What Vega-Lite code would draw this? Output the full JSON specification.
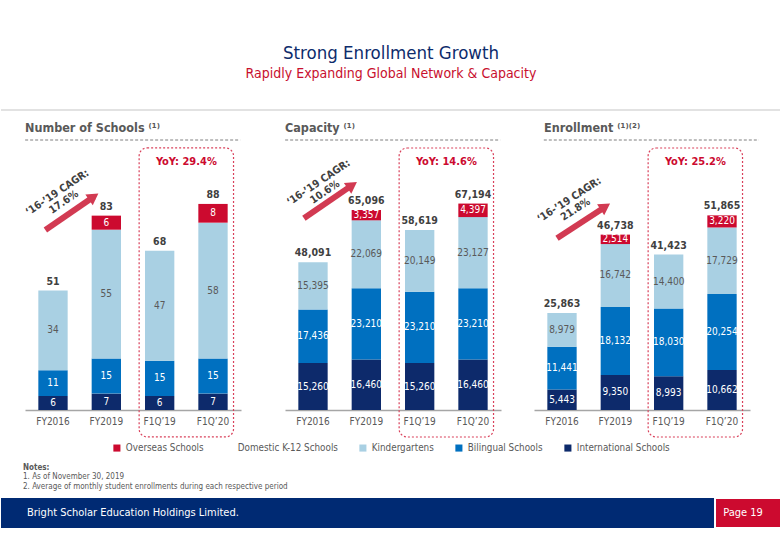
{
  "$schema": "https://vega.github.io/schema/vega-lite/v6.json",
  "background": "white",
  "padding": {"left": 0, "right": 0, "top": 43, "bottom": 0},
  "title": {
    "text": "Strong Enrollment Growth",
    "subtitle": "Rapidly Expanding Global Network & Capacity",
    "anchor": "middle",
    "font": "DejaVu Sans Condensed, sans-serif",
    "fontSize": 18.5,
    "fontWeight": "normal",
    "color": "#0d2c6c",
    "subtitleFont": "DejaVu Sans Condensed, sans-serif",
    "subtitleFontSize": 14,
    "subtitleColor": "#c8102e",
    "subtitlePadding": 5,
    "offset": 28
  },
  "datasets": {
    "schools": [
      {"period": "FY2016", "segment": "International Schools", "value": 6},
      {"period": "FY2016", "segment": "Bilingual Schools", "value": 11},
      {"period": "FY2016", "segment": "Kindergartens", "value": 34},
      {"period": "FY2019", "segment": "International Schools", "value": 7},
      {"period": "FY2019", "segment": "Bilingual Schools", "value": 15},
      {"period": "FY2019", "segment": "Kindergartens", "value": 55},
      {"period": "FY2019", "segment": "Overseas Schools", "value": 6},
      {"period": "F1Q’19", "segment": "International Schools", "value": 6},
      {"period": "F1Q’19", "segment": "Bilingual Schools", "value": 15},
      {"period": "F1Q’19", "segment": "Kindergartens", "value": 47},
      {"period": "F1Q’20", "segment": "International Schools", "value": 7},
      {"period": "F1Q’20", "segment": "Bilingual Schools", "value": 15},
      {"period": "F1Q’20", "segment": "Kindergartens", "value": 58},
      {"period": "F1Q’20", "segment": "Overseas Schools", "value": 8}
    ],
    "capacity": [
      {"period": "FY2016", "segment": "International Schools", "value": 15260},
      {"period": "FY2016", "segment": "Bilingual Schools", "value": 17436},
      {"period": "FY2016", "segment": "Kindergartens", "value": 15395},
      {"period": "FY2019", "segment": "International Schools", "value": 16460},
      {"period": "FY2019", "segment": "Bilingual Schools", "value": 23210},
      {"period": "FY2019", "segment": "Kindergartens", "value": 22069},
      {"period": "FY2019", "segment": "Overseas Schools", "value": 3357},
      {"period": "F1Q’19", "segment": "International Schools", "value": 15260},
      {"period": "F1Q’19", "segment": "Bilingual Schools", "value": 23210},
      {"period": "F1Q’19", "segment": "Kindergartens", "value": 20149},
      {"period": "F1Q’20", "segment": "International Schools", "value": 16460},
      {"period": "F1Q’20", "segment": "Bilingual Schools", "value": 23210},
      {"period": "F1Q’20", "segment": "Kindergartens", "value": 23127},
      {"period": "F1Q’20", "segment": "Overseas Schools", "value": 4397}
    ],
    "enrollment": [
      {"period": "FY2016", "segment": "International Schools", "value": 5443},
      {"period": "FY2016", "segment": "Bilingual Schools", "value": 11441},
      {"period": "FY2016", "segment": "Kindergartens", "value": 8979},
      {"period": "FY2019", "segment": "International Schools", "value": 9350},
      {"period": "FY2019", "segment": "Bilingual Schools", "value": 18132},
      {"period": "FY2019", "segment": "Kindergartens", "value": 16742},
      {"period": "FY2019", "segment": "Overseas Schools", "value": 2514},
      {"period": "F1Q’19", "segment": "International Schools", "value": 8993},
      {"period": "F1Q’19", "segment": "Bilingual Schools", "value": 18030},
      {"period": "F1Q’19", "segment": "Kindergartens", "value": 14400},
      {"period": "F1Q’20", "segment": "International Schools", "value": 10662},
      {"period": "F1Q’20", "segment": "Bilingual Schools", "value": 20254},
      {"period": "F1Q’20", "segment": "Kindergartens", "value": 17729},
      {"period": "F1Q’20", "segment": "Overseas Schools", "value": 3220}
    ],
    "legendItems": [
      {"segment": "Overseas Schools"}
    ],
    "notes": [
      {"n": 2, "note": "Notes:"},
      {"n": 3, "note": "1.  As of November 30, 2019"},
      {"n": 4, "note": "2.  Average of monthly student enrollments during each respective period"}
    ],
    "footer": [
      {"part": "name", "label": "Bright Scholar Education Holdings Limited."},
      {"part": "page", "label": "Page 19"}
    ]
  },
  "concat": [
    {
      "width": 780,
      "height": 8,
      "data": {"values": [{}]},
      "mark": {"type": "rule", "color": "#e2e2e2", "strokeWidth": 2},
      "encoding": {"y": {"datum": 1, "scale": {"domain": [0, 8], "reverse": true, "nice": false}, "axis": null}}
    },
    {
      "hconcat": [
        {
          "width": 13,
          "height": 270,
          "view": {"fill": "white", "stroke": null},
          "data": {"values": []},
          "mark": "rule",
          "encoding": {}
        },
        {
          "width": 216,
          "height": 270,
          "title": {"text": "Number of Schools ⁽¹⁾", "anchor": "start", "frame": "group", "fontSize": 12.5, "fontWeight": "bold", "color": "#595959", "offset": 5},
          "data": {"name": "schools"},
          "layer": [
            {
              "transform": [
                {"calculate": "indexof(['International Schools','Bilingual Schools','Kindergartens','Overseas Schools'], datum.segment)", "as": "ord"},
                {"stack": "value", "groupby": ["period"], "sort": [{"field": "ord", "order": "ascending"}], "as": ["y0", "y1"]}
              ],
              "mark": {"type": "bar"},
              "encoding": {
                "x": {"field": "period", "type": "nominal", "sort": ["FY2016", "FY2019", "F1Q’19", "F1Q’20"],
                  "scale": {"domain": ["FY2016", "FY2019", "F1Q’19", "F1Q’20"], "paddingInner": 0.45, "paddingOuter": 0.25},
                  "axis": {"title": null, "labelAngle": 0, "ticks": false, "domainColor": "#a6a6a6", "domainWidth": 1.5, "labelColor": "#595959", "labelFontSize": 10, "labelPadding": 6}},
                "y": {"field": "y0", "type": "quantitative", "scale": {"domain": [0, 115.3], "nice": false}, "axis": null},
                "y2": {"field": "y1"},
                "color": {"field": "segment", "type": "nominal",
                  "scale": {"domain": ["Overseas Schools", "Domestic K-12 Schools", "Kindergartens", "Bilingual Schools", "International Schools"], "range": ["#cc0a2f", "rgba(0,0,0,0)", "#a9d0e3", "#0070c0", "#0d2a6b"]},
                  "legend": null}
              }
            },
            {
              "transform": [
                {"calculate": "indexof(['International Schools','Bilingual Schools','Kindergartens','Overseas Schools'], datum.segment)", "as": "ord"},
                {"stack": "value", "groupby": ["period"], "sort": [{"field": "ord", "order": "ascending"}], "as": ["y0", "y1"]},
                {"calculate": "(datum.y0 + datum.y1) / 2", "as": "mid"}
              ],
              "mark": {"type": "text", "fontSize": 10, "baseline": "middle"},
              "encoding": {
                "x": {"field": "period", "type": "nominal"},
                "y": {"field": "mid", "type": "quantitative"},
                "text": {"field": "value", "type": "quantitative", "format": ","},
                "color": {"condition": {"test": "datum.segment === 'Kindergartens'", "value": "#595959"}, "value": "white"}
              }
            },
            {
              "transform": [{"aggregate": [{"op": "sum", "field": "value", "as": "total"}], "groupby": ["period"]}],
              "mark": {"type": "text", "fontSize": 10.5, "fontWeight": "bold", "color": "#404040", "baseline": "bottom", "dy": -4},
              "encoding": {
                "x": {"field": "period", "type": "nominal"},
                "y": {"field": "total", "type": "quantitative"},
                "text": {"field": "total", "type": "quantitative", "format": ","}
              }
            },
            {
              "data": {"values": [{}]},
              "mark": {"type": "rule", "strokeDash": [3, 2], "color": "#7f7f7f", "strokeWidth": 1},
              "encoding": {"x": {"datum": "FY2016", "bandPosition": -0.45}, "x2": {"datum": "F1Q’20", "bandPosition": 1.43}, "y": {"datum": 115.3}}
            },
            {
              "data": {"values": [{}]},
              "mark": {"type": "rect", "fillOpacity": 0, "stroke": "#d9415b", "strokeWidth": 1.2, "strokeDash": [2, 2], "cornerRadius": 8},
              "encoding": {"x": {"datum": "F1Q’19", "bandPosition": -0.2}, "x2": {"datum": "F1Q’20", "bandPosition": 1.2}, "y": {"datum": 111.9}, "y2": {"datum": -11.5}}
            },
            {
              "data": {"values": [{}]},
              "mark": {"type": "text", "text": "YoY: 29.4%", "fontSize": 11, "fontWeight": "bold", "color": "#cc0a2f", "baseline": "middle", "align": "center"},
              "encoding": {"x": {"datum": "F1Q’19", "bandPosition": 1.41}, "y": {"datum": 106.1}}
            },
            {
              "data": {"values": [{}]},
              "mark": {"type": "rule", "color": "#d23a52", "strokeWidth": 6},
              "encoding": {"x": {"datum": "FY2016", "bandPosition": 0.24}, "x2": {"datum": "FY2019", "bandPosition": 0.07}, "y": {"datum": 76.9}, "y2": {"datum": 91.1}}
            },
            {
              "data": {"values": [{}]},
              "mark": {"type": "point", "shape": "triangle-up", "filled": true, "opacity": 1, "size": 170, "color": "#d23a52", "angle": 55.5},
              "encoding": {"x": {"datum": "FY2019", "bandPosition": 0.07}, "y": {"datum": 91.1}}
            },
            {
              "data": {"values": [{}]},
              "mark": {"type": "text", "text": ["‘16-’19 CAGR:", "17.6%"], "angle": 326, "align": "center", "baseline": "middle", "lineHeight": 11.5, "fontSize": 10.5, "fontWeight": "bold", "color": "#404040"},
              "encoding": {"x": {"datum": "FY2016", "bandPosition": 0.65}, "y": {"datum": 92.8}}
            }
          ]
        },
        {
          "width": 216,
          "height": 270,
          "title": {"text": "Capacity ⁽¹⁾", "anchor": "start", "frame": "group", "fontSize": 12.5, "fontWeight": "bold", "color": "#595959", "offset": 5},
          "data": {"name": "capacity"},
          "layer": [
            {
              "transform": [
                {"calculate": "indexof(['International Schools','Bilingual Schools','Kindergartens','Overseas Schools'], datum.segment)", "as": "ord"},
                {"stack": "value", "groupby": ["period"], "sort": [{"field": "ord", "order": "ascending"}], "as": ["y0", "y1"]}
              ],
              "mark": {"type": "bar"},
              "encoding": {
                "x": {"field": "period", "type": "nominal", "sort": ["FY2016", "FY2019", "F1Q’19", "F1Q’20"],
                  "scale": {"domain": ["FY2016", "FY2019", "F1Q’19", "F1Q’20"], "paddingInner": 0.45, "paddingOuter": 0.25},
                  "axis": {"title": null, "labelAngle": 0, "ticks": false, "domainColor": "#a6a6a6", "domainWidth": 1.5, "labelColor": "#595959", "labelFontSize": 10, "labelPadding": 6}},
                "y": {"field": "y0", "type": "quantitative", "scale": {"domain": [0, 87885], "nice": false},
                  "axis": {"title": null, "labels": false, "ticks": false, "domain": false, "grid": false, "minExtent": 33.8, "maxExtent": 33.8}},
                "y2": {"field": "y1"},
                "color": {"field": "segment", "type": "nominal",
                  "scale": {"domain": ["Overseas Schools", "Domestic K-12 Schools", "Kindergartens", "Bilingual Schools", "International Schools"], "range": ["#cc0a2f", "rgba(0,0,0,0)", "#a9d0e3", "#0070c0", "#0d2a6b"]},
                  "legend": null}
              }
            },
            {
              "transform": [
                {"calculate": "indexof(['International Schools','Bilingual Schools','Kindergartens','Overseas Schools'], datum.segment)", "as": "ord"},
                {"stack": "value", "groupby": ["period"], "sort": [{"field": "ord", "order": "ascending"}], "as": ["y0", "y1"]},
                {"calculate": "(datum.y0 + datum.y1) / 2", "as": "mid"}
              ],
              "mark": {"type": "text", "fontSize": 10, "baseline": "middle"},
              "encoding": {
                "x": {"field": "period", "type": "nominal"},
                "y": {"field": "mid", "type": "quantitative"},
                "text": {"field": "value", "type": "quantitative", "format": ","},
                "color": {"condition": {"test": "datum.segment === 'Kindergartens'", "value": "#595959"}, "value": "white"}
              }
            },
            {
              "transform": [{"aggregate": [{"op": "sum", "field": "value", "as": "total"}], "groupby": ["period"]}],
              "mark": {"type": "text", "fontSize": 10.5, "fontWeight": "bold", "color": "#404040", "baseline": "bottom", "dy": -4},
              "encoding": {
                "x": {"field": "period", "type": "nominal"},
                "y": {"field": "total", "type": "quantitative"},
                "text": {"field": "total", "type": "quantitative", "format": ","}
              }
            },
            {
              "data": {"values": [{}]},
              "mark": {"type": "rule", "strokeDash": [3, 2], "color": "#7f7f7f", "strokeWidth": 1},
              "encoding": {"x": {"datum": "FY2016", "bandPosition": -0.45}, "x2": {"datum": "F1Q’20", "bandPosition": 1.43}, "y": {"datum": 87885}}
            },
            {
              "data": {"values": [{}]},
              "mark": {"type": "rect", "fillOpacity": 0, "stroke": "#d9415b", "strokeWidth": 1.2, "strokeDash": [2, 2], "cornerRadius": 8},
              "encoding": {"x": {"datum": "F1Q’19", "bandPosition": -0.2}, "x2": {"datum": "F1Q’20", "bandPosition": 1.2}, "y": {"datum": 85281}, "y2": {"datum": -8789}}
            },
            {
              "data": {"values": [{}]},
              "mark": {"type": "text", "text": "YoY: 14.6%", "fontSize": 11, "fontWeight": "bold", "color": "#cc0a2f", "baseline": "middle", "align": "center"},
              "encoding": {"x": {"datum": "F1Q’19", "bandPosition": 1.41}, "y": {"datum": 80822}}
            },
            {
              "data": {"values": [{}]},
              "mark": {"type": "rule", "color": "#d23a52", "strokeWidth": 6},
              "encoding": {"x": {"datum": "FY2016", "bandPosition": 0.19}, "x2": {"datum": "FY2019", "bandPosition": 0.02}, "y": {"datum": 62398}, "y2": {"datum": 73205}}
            },
            {
              "data": {"values": [{}]},
              "mark": {"type": "point", "shape": "triangle-up", "filled": true, "opacity": 1, "size": 170, "color": "#d23a52", "angle": 55.5},
              "encoding": {"x": {"datum": "FY2019", "bandPosition": 0.02}, "y": {"datum": 73205}}
            },
            {
              "data": {"values": [{}]},
              "mark": {"type": "text", "text": ["‘16-’19 CAGR:", "10.6%"], "angle": 326, "align": "center", "baseline": "middle", "lineHeight": 11.5, "fontSize": 10.5, "fontWeight": "bold", "color": "#404040"},
              "encoding": {"x": {"datum": "FY2016", "bandPosition": 0.69}, "y": {"datum": 73986}}
            }
          ]
        },
        {
          "width": 216,
          "height": 270,
          "title": {"text": "Enrollment ⁽¹⁾⁽²⁾", "anchor": "start", "frame": "group", "fontSize": 12.5, "fontWeight": "bold", "color": "#595959", "offset": 5, "dx": 10},
          "data": {"name": "enrollment"},
          "layer": [
            {
              "transform": [
                {"calculate": "indexof(['International Schools','Bilingual Schools','Kindergartens','Overseas Schools'], datum.segment)", "as": "ord"},
                {"stack": "value", "groupby": ["period"], "sort": [{"field": "ord", "order": "ascending"}], "as": ["y0", "y1"]}
              ],
              "mark": {"type": "bar"},
              "encoding": {
                "x": {"field": "period", "type": "nominal", "sort": ["FY2016", "FY2019", "F1Q’19", "F1Q’20"],
                  "scale": {"domain": ["FY2016", "FY2019", "F1Q’19", "F1Q’20"], "paddingInner": 0.45, "paddingOuter": 0.25},
                  "axis": {"title": null, "labelAngle": 0, "ticks": false, "domainColor": "#a6a6a6", "domainWidth": 1.5, "labelColor": "#595959", "labelFontSize": 10, "labelPadding": 6}},
                "y": {"field": "y0", "type": "quantitative", "scale": {"domain": [0, 71955], "nice": false},
                  "axis": {"title": null, "labels": false, "ticks": false, "domain": false, "grid": false, "minExtent": 22.5, "maxExtent": 22.5}},
                "y2": {"field": "y1"},
                "color": {"field": "segment", "type": "nominal",
                  "scale": {"domain": ["Overseas Schools", "Domestic K-12 Schools", "Kindergartens", "Bilingual Schools", "International Schools"], "range": ["#cc0a2f", "rgba(0,0,0,0)", "#a9d0e3", "#0070c0", "#0d2a6b"]},
                  "legend": null}
              }
            },
            {
              "transform": [
                {"calculate": "indexof(['International Schools','Bilingual Schools','Kindergartens','Overseas Schools'], datum.segment)", "as": "ord"},
                {"stack": "value", "groupby": ["period"], "sort": [{"field": "ord", "order": "ascending"}], "as": ["y0", "y1"]},
                {"calculate": "(datum.y0 + datum.y1) / 2", "as": "mid"}
              ],
              "mark": {"type": "text", "fontSize": 10, "baseline": "middle"},
              "encoding": {
                "x": {"field": "period", "type": "nominal"},
                "y": {"field": "mid", "type": "quantitative"},
                "text": {"field": "value", "type": "quantitative", "format": ","},
                "color": {"condition": {"test": "datum.segment === 'Kindergartens'", "value": "#595959"}, "value": "white"}
              }
            },
            {
              "transform": [{"aggregate": [{"op": "sum", "field": "value", "as": "total"}], "groupby": ["period"]}],
              "mark": {"type": "text", "fontSize": 10.5, "fontWeight": "bold", "color": "#404040", "baseline": "bottom", "dy": -4},
              "encoding": {
                "x": {"field": "period", "type": "nominal"},
                "y": {"field": "total", "type": "quantitative"},
                "text": {"field": "total", "type": "quantitative", "format": ","}
              }
            },
            {
              "data": {"values": [{}]},
              "mark": {"type": "rule", "strokeDash": [3, 2], "color": "#7f7f7f", "strokeWidth": 1},
              "encoding": {"x": {"datum": "FY2016", "bandPosition": -0.12}, "x2": {"datum": "F1Q’20", "bandPosition": 1.76}, "y": {"datum": 71955}}
            },
            {
              "data": {"values": [{}]},
              "mark": {"type": "rect", "fillOpacity": 0, "stroke": "#d9415b", "strokeWidth": 1.2, "strokeDash": [2, 2], "cornerRadius": 8},
              "encoding": {"x": {"datum": "F1Q’19", "bandPosition": -0.2}, "x2": {"datum": "F1Q’20", "bandPosition": 1.2}, "y": {"datum": 69823}, "y2": {"datum": -7196}}
            },
            {
              "data": {"values": [{}]},
              "mark": {"type": "text", "text": "YoY: 25.2%", "fontSize": 11, "fontWeight": "bold", "color": "#cc0a2f", "baseline": "middle", "align": "center"},
              "encoding": {"x": {"datum": "F1Q’19", "bandPosition": 1.41}, "y": {"datum": 66172}}
            },
            {
              "data": {"values": [{}]},
              "mark": {"type": "rule", "color": "#d23a52", "strokeWidth": 6},
              "encoding": {"x": {"datum": "FY2016", "bandPosition": 0.33}, "x2": {"datum": "FY2019", "bandPosition": 0.16}, "y": {"datum": 45758}, "y2": {"datum": 54179}}
            },
            {
              "data": {"values": [{}]},
              "mark": {"type": "point", "shape": "triangle-up", "filled": true, "opacity": 1, "size": 170, "color": "#d23a52", "angle": 56.8},
              "encoding": {"x": {"datum": "FY2019", "bandPosition": 0.16}, "y": {"datum": 54179}}
            },
            {
              "data": {"values": [{}]},
              "mark": {"type": "text", "text": ["‘16-’19 CAGR:", "21.8%"], "angle": 327, "align": "center", "baseline": "middle", "lineHeight": 11.5, "fontSize": 10.5, "fontWeight": "bold", "color": "#404040"},
              "encoding": {"x": {"datum": "FY2016", "bandPosition": 0.75}, "y": {"datum": 55965}}
            }
          ]
        }
      ],
      "spacing": 10,
      "resolve": {"scale": {"x": "independent", "y": "independent", "color": "shared"}, "axis": {"x": "independent", "y": "independent"}}
    },
    {
      "width": 780,
      "height": 49,
      "layer": [
        {
          "data": {"name": "legendItems"},
          "transform": [{"filter": "false"}],
          "mark": {"type": "square", "opacity": 1},
          "encoding": {
            "color": {"field": "segment", "type": "nominal",
              "scale": {"domain": ["Overseas Schools", "Domestic K-12 Schools", "Kindergartens", "Bilingual Schools", "International Schools"], "range": ["#cc0a2f", "rgba(0,0,0,0)", "#a9d0e3", "#0070c0", "#0d2a6b"]},
              "legend": {"orient": "none", "legendX": 111, "legendY": 0, "direction": "horizontal", "title": null, "symbolType": "square", "symbolSize": 50, "symbolStrokeWidth": 0, "labelFontSize": 9.8, "labelColor": "#595959", "columnPadding": 20, "labelOffset": 4}}
          }
        },
        {
          "data": {"name": "notes"},
          "transform": [{"filter": "datum.n === 2"}],
          "mark": {"type": "text", "align": "left", "baseline": "middle", "fontSize": 8, "fontWeight": "bold", "color": "#595959"},
          "encoding": {
            "x": {"datum": "notes", "scale": {"type": "point", "domain": ["notes"], "padding": 0, "align": 0.0282}, "axis": null},
            "y": {"field": "n", "type": "ordinal", "scale": {"type": "point", "domain": [0, 1, 2, 3, 4], "padding": 0.5}, "axis": null},
            "text": {"field": "note"}
          }
        },
        {
          "data": {"name": "notes"},
          "transform": [{"filter": "datum.n > 2"}],
          "mark": {"type": "text", "align": "left", "baseline": "middle", "fontSize": 8, "color": "#595959"},
          "encoding": {
            "x": {"datum": "notes"},
            "y": {"field": "n", "type": "ordinal"},
            "text": {"field": "note"}
          }
        }
      ]
    },
    {
      "width": 780,
      "height": 30,
      "view": {"fill": "#002a73", "stroke": null},
      "data": {"name": "footer"},
      "layer": [
        {
          "transform": [{"filter": "datum.part === 'page'"}],
          "mark": {"type": "rect", "width": 66, "color": "#cc0a2f", "stroke": "white", "strokeWidth": 2},
          "encoding": {
            "x": {"field": "part", "type": "nominal", "scale": {"type": "point", "domain": ["name", "page"], "padding": 0.0409, "align": 0.4407}, "axis": null}
          }
        },
        {
          "transform": [{"filter": "datum.part === 'name'"}],
          "mark": {"type": "text", "align": "left", "baseline": "middle", "color": "white", "fontSize": 11},
          "encoding": {"x": {"field": "part", "type": "nominal"}, "text": {"field": "label"}}
        },
        {
          "transform": [{"filter": "datum.part === 'page'"}],
          "mark": {"type": "text", "align": "center", "baseline": "middle", "color": "white", "fontSize": 11, "dx": -5},
          "encoding": {"x": {"field": "part", "type": "nominal"}, "text": {"field": "label"}}
        }
      ]
    }
  ],
  "columns": 1,
  "spacing": 5,
  "resolve": {"scale": {"color": "independent", "y": "independent", "x": "independent"}, "legend": {"color": "independent"}},
  "config": {
    "view": {"stroke": null},
    "font": "DejaVu Sans Condensed, sans-serif",
    "axis": {"labelFont": "DejaVu Sans Condensed, sans-serif"},
    "legend": {"labelFont": "DejaVu Sans Condensed, sans-serif"},
    "title": {"font": "DejaVu Sans Condensed, sans-serif"},
    "text": {"font": "DejaVu Sans Condensed, sans-serif"}
  }
}
